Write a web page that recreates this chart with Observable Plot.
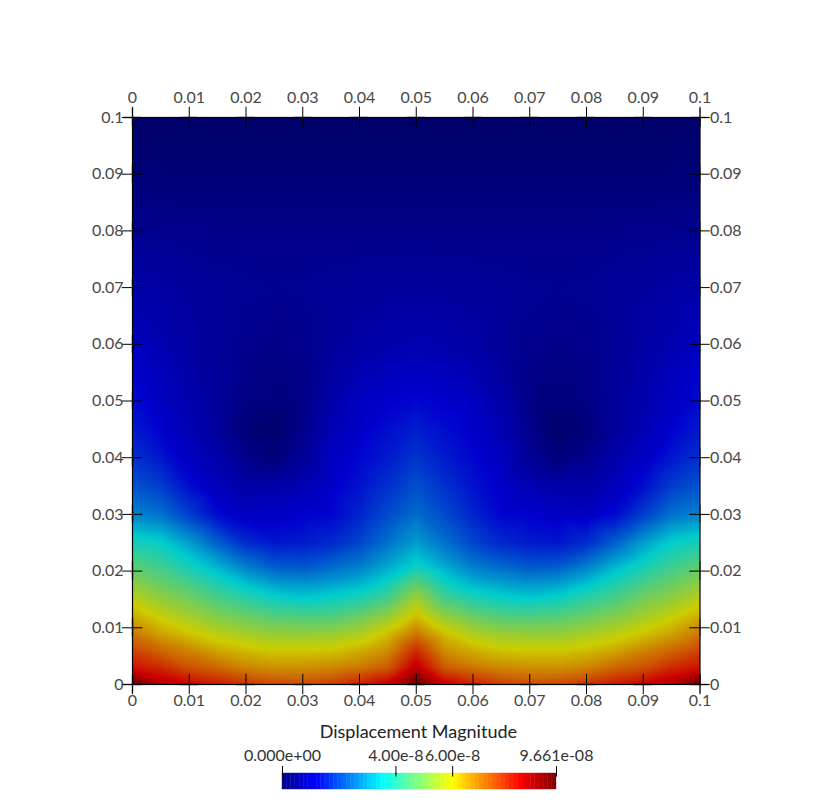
<!DOCTYPE html>
<html><head><meta charset="utf-8">
<script src="https://cdn.jsdelivr.net/npm/d3@7"></script>
<script src="https://cdn.jsdelivr.net/npm/@observablehq/plot@0.6"></script>
<style>
html,body{margin:0;padding:0;background:#fff}
#root{position:relative;width:832px;height:803px;overflow:hidden}
#root svg{position:absolute;left:0;top:0;background:transparent;font-family:Lato,sans-serif}
</style></head><body><div id="root"></div>
<script>
// Axis ticks (data units)
const xTicks=[0,0.01,0.02,0.03,0.04,0.05,0.06,0.07,0.08,0.09,0.1];
const yTicks=[0,0.01,0.02,0.03,0.04,0.05,0.06,0.07,0.08,0.09,0.1];
// Sample columns for the left half of the (symmetric) field, and sample rows
const halfX=[0,0.005,0.01,0.015,0.02,0.025,0.03,0.035,0.04,0.045,0.05];
const rowY=[0,0.003,0.006,0.009,0.012,0.015,0.018,0.021,0.025,0.03,0.035,0.04,0.045,0.05,0.06,0.07,0.08,0.09,0.1];
// Displacement magnitude, unit 1e-8, one list per row
const r000=[9.66,8.8,8.4,8.1,7.8,7.55,7.5,7.65,8.0,8.5,9.66];
const r003=[8.2,7.9,7.45,7.2,6.85,6.7,6.7,6.8,7.0,7.35,8.6];
const r006=[7.6,7.2,6.85,6.45,6.2,6.05,6.05,6.1,6.35,6.75,7.9];
const r009=[7.0,6.5,6.1,5.75,5.5,5.3,5.3,5.35,5.6,6.15,7.0];
const r012=[6.4,5.9,5.5,5.1,4.8,4.55,4.45,4.5,4.8,5.3,6.2];
const r015=[5.8,5.3,4.95,4.45,4.1,3.75,3.6,3.7,3.95,4.4,5.5];
const r018=[5.2,4.75,4.35,3.85,3.35,2.95,2.85,3.0,3.2,3.7,4.6];
const r021=[4.6,4.25,3.75,3.2,2.6,2.2,2.15,2.35,2.6,3.1,3.65];
const r025=[3.85,3.6,3.0,2.3,1.7,1.45,1.5,1.65,2.0,2.5,3.0];
const r030=[2.7,2.5,1.9,1.3,1.05,1.1,1.2,1.25,1.6,2.05,2.45];
const r035=[2.15,1.9,1.35,0.95,0.75,0.75,0.9,1.15,1.4,1.75,2.1];
const r040=[1.75,1.45,1.05,0.8,0.42,0.22,0.55,1.05,1.25,1.5,1.8];
const r045=[1.5,1.2,0.9,0.62,0.18,0.06,0.42,0.9,1.15,1.35,1.55];
const r050=[1.35,1.05,0.82,0.58,0.32,0.22,0.36,0.78,1.05,1.18,1.28];
const r060=[1.05,0.85,0.7,0.55,0.42,0.36,0.44,0.58,0.72,0.8,0.85];
const r070=[0.78,0.7,0.62,0.55,0.5,0.48,0.5,0.54,0.58,0.6,0.62];
const r080=[0.45,0.43,0.41,0.4,0.38,0.38,0.38,0.38,0.38,0.38,0.38];
const r090=[0.18,0.17,0.16,0.16,0.15,0.15,0.15,0.15,0.15,0.15,0.15];
const r100=[0.02,0.02,0.02,0.02,0.02,0.02,0.02,0.02,0.02,0.02,0.02];
const rows=[r000,r003,r006,r009,r012,r015,r018,r021,r025,r030,r035,r040,r045,r050,r060,r070,r080,r090,r100];
// Colour map stops (unit 1e-8)
const maxValue=9.661;
const stops=[0,1.2,3.55,6.0,8.4,9.661];
const jet=["rgb(0,0,135)","rgb(0,0,255)","rgb(0,255,255)","rgb(255,255,0)","rgb(255,0,0)","rgb(128,0,0)"];
const jetShaded=["rgb(0,0,105)","rgb(0,0,205)","rgb(0,205,205)","rgb(205,205,0)","rgb(205,0,0)","rgb(100,0,0)"];
// Legend
const legendTicks=[0,4,6,9.661];
const legendLabels=["0.000e+00","4.00e-8","6.00e-8","9.661e-08"];
const legendTitle="Displacement Magnitude";
const bandCount=64;

const field=[];
rowY.forEach((y,j)=>{
  halfX.forEach((x,i)=>{
    field.push({x,y,v:rows[j][i]});
    if(i<halfX.length-1) field.push({x:0.1-x,y,v:rows[j][i]});
  });
});
const textGrey="#484848";
const arm=0.0018, blurArm=0.0016;
const main=Plot.plot({
  width:832,height:760,margin:0,
  marginLeft:132,marginRight:132.5,marginTop:117,marginBottom:76,
  style:{fontFamily:"Lato, sans-serif",background:"transparent"},
  x:{domain:[0,0.1],axis:null},
  y:{domain:[0,0.1],axis:null},
  color:{type:"linear",domain:stops,range:jetShaded,interpolate:"rgb",clamp:true},
  marks:[
    Plot.raster(field,{x:"x",y:"y",fill:"v",interpolate:"barycentric",pixelSize:1}),
    Plot.frame({stroke:"#000",strokeWidth:1.2}),
    ...[0.1,0].map(e=>Plot.ruleX(xTicks,{y1:e-arm,y2:e+arm,stroke:"#000",strokeWidth:1})),
    ...[0,0.1].map(e=>Plot.ruleY(yTicks,{x1:e-arm,x2:e+arm,stroke:"#000",strokeWidth:1})),
    ...[0.1,0].map(e=>Plot.ruleY(xTicks,{x1:d=>d-blurArm,x2:d=>d+blurArm,y:()=>e,stroke:"#000",strokeOpacity:0.35,strokeWidth:2})),
    ...[0,0.1].map(e=>Plot.ruleX(yTicks,{y1:d=>d-blurArm,y2:d=>d+blurArm,x:()=>e,stroke:"#000",strokeOpacity:0.35,strokeWidth:2})),
    Plot.axisX({ticks:xTicks,anchor:"top",tickSize:0,tickPadding:15,tickFormat:String,label:null,fontSize:16,fill:textGrey}),
    Plot.axisX({ticks:xTicks,anchor:"bottom",tickSize:0,tickPadding:10,tickFormat:String,label:null,fontSize:16,fill:textGrey}),
    Plot.axisY({ticks:yTicks,anchor:"left",tickSize:0,tickPadding:9,tickFormat:String,label:null,fontSize:16,fill:textGrey}),
    Plot.axisY({ticks:yTicks,anchor:"right",tickSize:0,tickPadding:10,tickFormat:String,label:null,fontSize:16,fill:textGrey})
  ]
});
const bands=d3.range(bandCount).map(i=>({a:i/bandCount*maxValue,b:(i+1)/bandCount*maxValue,v:(i+0.5)/bandCount*maxValue}));
const legend=Plot.plot({
  width:832,height:803,
  marginLeft:282,marginRight:276,marginTop:773,marginBottom:14,
  style:{fontFamily:"Lato, sans-serif",background:"transparent"},
  x:{domain:[0,maxValue],axis:null},
  y:{domain:[0,1],axis:null},
  color:{type:"linear",domain:stops,range:jet,interpolate:"rgb"},
  marks:[
    Plot.rect(bands,{x1:"a",x2:"b",y1:()=>0,y2:()=>1,fill:"v",stroke:"v",strokeWidth:0.4}),
    Plot.axisX({ticks:legendTicks,anchor:"top",tickSize:8,tickPadding:5,tickFormat:(d,i)=>legendLabels[i],label:null,fontSize:16,fill:"#333",stroke:"#000"}),
    Plot.ruleX(legendTicks,{y1:1,y2:0.78,stroke:"#000"}),
    Plot.text([legendTitle],{x:()=>4.79,y:()=>1,dy:-41,text:d=>d,fontSize:18,fill:"#222"})
  ]
});
document.getElementById("root").append(main,legend);
</script></body></html>
